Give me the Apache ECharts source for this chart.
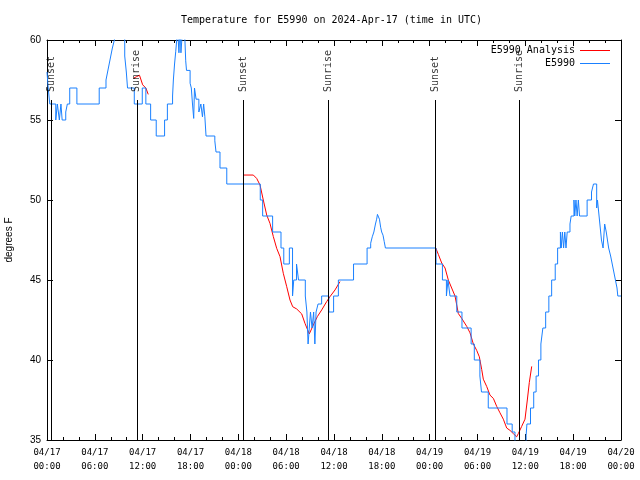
<!DOCTYPE html>
<html><head><meta charset="utf-8">
<script src="https://cdn.jsdelivr.net/npm/echarts@6/dist/echarts.min.js"></script>
<style>html,body{margin:0;padding:0;background:#fff}#c{width:640px;height:480px}</style>
</head><body><div id="c"></div>
<script>
// hours since 04/17 00:00 UTC
const xTickLabels = ['04/17\n00:00','04/17\n06:00','04/17\n12:00','04/17\n18:00','04/18\n00:00','04/18\n06:00','04/18\n12:00','04/18\n18:00','04/19\n00:00','04/19\n06:00','04/19\n12:00','04/19\n18:00','04/20\n00:00'];

// E5990 observations (level changes)
const obsHours = [0.0,0.15,0.35,1.1,1.3,1.55,1.75,1.9,2.35,2.55,2.85,3.75,6.55,7.4,7.6,7.8,8.0,8.2,8.45,8.65,9.75,9.95,10.1,10.95,11.95,12.4,13.0,13.7,14.75,15.1,15.75,15.85,16.0,16.15,16.27,16.35,16.55,16.7,16.8,17.05,17.3,17.4,17.5,17.95,18.1,18.25,18.4,18.5,18.7,19.05,19.3,19.5,19.65,19.8,19.95,21.05,21.2,21.7,22.55,26.75,27.05,28.3,29.35,29.7,30.4,30.8,30.95,31.3,31.55,32.4,32.6,32.75,32.9,33.05,33.25,33.45,33.6,33.75,34.0,34.45,35.35,35.95,36.55,38.45,40.15,40.6,40.8,41.0,41.2,41.35,41.45,41.7,41.85,41.98,42.15,42.3,42.45,48.8,49.6,50.1,50.3,50.55,51.4,52.05,53.2,53.6,54.3,54.5,55.35,57.7,58.35,58.7,60.1,60.2,60.65,61.05,61.35,61.65,61.95,62.2,62.55,62.95,63.3,63.75,64.05,64.4,64.5,64.65,64.8,64.95,65.1,65.25,65.6,65.75,66.1,66.2,66.35,66.5,66.65,66.8,67.75,68.3,68.55,68.95,69.05,69.15,69.35,69.55,69.75,69.95,70.15,70.3,70.45,70.7,70.9,71.1,71.3,71.5,71.6,72.0];
const obsTemps = [58,57,56,55,56,55,56,55,55.5,56,57,56,57,57.5,58,58.5,59,59.5,60,61,59,58,57,56,57,56,55,54,55,56,56.5,57.5,58.5,59.3,60,61,59.2,61,59.2,61,60,58.7,58.1,57.3,57,56,55.1,57,56.3,55.5,56,55.2,56,55.2,54,53.7,53,52,51,50,49,48,47,46,47,44,45,46,45,44,43,41,42,43,42,43,41,43,43.5,44,43,44,45,46,47,47.3,47.7,48,48.5,48.8,49.1,48.8,48.3,48,47.8,47.4,47,46,45,44,45,44,43,42,41,40,39,38,37,36,35.5,34,35.3,36,37,38,39,40,41,42,43,44,45,46,47,48,47,48,47,48,47,48,48.5,49,50,49,50,49,50,49,50,50.5,51,49.5,50,49.5,48.5,47.5,47,48.5,48,47.5,47,46.5,46,45.5,45,44.5,44,44];

// E5990 Analysis (null = gap between runs)
const anaHours = [10.83,11.2,11.6,12.0,12.4,12.7,null,24.63,25.88,26.3,26.72,27.13,27.56,27.97,28.39,28.81,29.23,29.64,30.07,30.48,30.82,31.32,31.95,32.36,32.9,33.41,33.91,34.46,35.08,35.5,36.13,36.75,null,48.76,49.09,49.51,49.93,50.34,50.76,51.18,51.6,52.02,52.65,53.06,53.48,53.9,54.23,54.53,54.73,55.15,55.57,55.99,56.41,56.82,57.24,57.66,58.08,58.49,58.91,59.12,59.54,59.96,60.25,60.5,60.8];
const anaTemps = [57.6,57.7,57.8,57.2,57.0,56.6,null,51.56,51.56,51.35,50.94,50.0,49.06,48.54,47.71,46.98,46.46,45.42,44.58,43.75,43.33,43.19,42.88,42.29,41.63,42.19,42.71,43.13,43.65,43.96,44.38,44.9,null,47.0,46.6,46.06,45.75,45.0,44.5,44.0,42.9,42.6,42.1,41.7,41.0,40.6,40.2,39.4,38.8,38.35,37.8,37.6,37.1,36.7,36.3,35.75,35.6,35.4,35.2,35.4,35.85,36.3,37.5,38.6,39.6];

// Sunrise / sunset events
const eventHours = [0.59,11.27,24.63,35.29,48.75,59.25];
const eventNames = ['Sunset','Sunrise','Sunset','Sunrise','Sunset','Sunrise'];
const eventLineTop = 56.25;
const eventLabelBase = 56.75;

const obsData = obsHours.map((h,i)=>[h,obsTemps[i]]);
const anaData = anaHours.map((h,i)=> h===null ? [null,null] : [h,anaTemps[i]]);
const evData = eventHours.map(h=>[h,eventLabelBase]);
const evLines = eventHours.map(h=>[{coord:[h,35]},{coord:[h,eventLineTop]}]);

const mono = 'DejaVu Sans Mono';
const xAxisBase = (pos, showLabel) => ({
  type:'value', min:0, max:72, interval:6, position:pos,
  axisLine:{show:true, onZero:false, lineStyle:{color:'#000', width:1}},
  axisTick:{show:true, inside:true, length:6, lineStyle:{color:'#000', width:1}},
  minorTick:{show:true, splitNumber:3, length:3, lineStyle:{color:'#000', width:1}},
  splitLine:{show:false}, minorSplitLine:{show:false},
  axisLabel:{show:showLabel, formatter:v=>xTickLabels[Math.round(v/6)], fontFamily:mono, fontSize:9, color:'#000', lineHeight:14, margin:6, showMinLabel:true, showMaxLabel:true}
});
const yAxisBase = (pos, showLabel) => ({
  type:'value', min:35, max:60, interval:5, position:pos,
  axisLine:{show:true, onZero:false, lineStyle:{color:'#000', width:1}},
  axisTick:{show:true, inside:true, length:6, lineStyle:{color:'#000', width:1}},
  splitLine:{show:false},
  axisLabel:{show:showLabel, fontFamily:'Liberation Sans', fontSize:10, color:'#000', margin:6}
});

const chart = echarts.init(document.getElementById('c'), null, {renderer:'canvas'});
const y0 = yAxisBase('left', true);
y0.name = 'degrees F'; y0.nameLocation = 'middle'; y0.nameGap = 33; y0.nameRotate = 90;
y0.nameTextStyle = {fontFamily:'Liberation Sans', fontSize:10, color:'#000'};
chart.setOption({
  animation:false,
  backgroundColor:'#fff',
  title:{text:'Temperature for E5990 on 2024-Apr-17 (time in UTC)', left:181, top:15, padding:0,
    textStyle:{fontFamily:mono, fontSize:10, fontWeight:'normal', color:'#000'}},
  legend:{data:['E5990 Analysis','E5990'], orient:'vertical', right:30, top:45, padding:0, align:'right',
    icon:'rect', itemWidth:30, itemHeight:1, itemGap:2, selectedMode:false,
    textStyle:{fontFamily:mono, fontSize:10, color:'#000', lineHeight:11, padding:[0,0,0,0]}},
  grid:{left:47, right:19, top:40, bottom:40, containLabel:false, outerBoundsMode:'none'},
  xAxis:[xAxisBase('bottom', true), xAxisBase('top', false)],
  yAxis:[y0, yAxisBase('right', false)],
  series:[
    {name:'E5990 Analysis', type:'line', data:anaData, symbol:'none', connectNulls:false,
      color:'#ff0000', lineStyle:{color:'#ff0000', width:1}, z:3},
    {name:'E5990', type:'line', step:'end', data:obsData, symbol:'none',
      color:'#1a80ff', lineStyle:{color:'#1a80ff', width:1}, z:4},
    {name:'events', type:'scatter', data:evData, symbolSize:1, itemStyle:{color:'rgba(0,0,0,0)'}, z:5,
      label:{show:true, formatter:p=>eventNames[p.dataIndex], position:'inside', rotate:90, align:'left', verticalAlign:'middle',
        fontFamily:mono, fontSize:10, color:'#000'},
      markLine:{silent:true, symbol:'none', label:{show:false}, lineStyle:{color:'#000', width:1, type:'solid'}, data:evLines}
    }
  ]
});
</script></body></html>
